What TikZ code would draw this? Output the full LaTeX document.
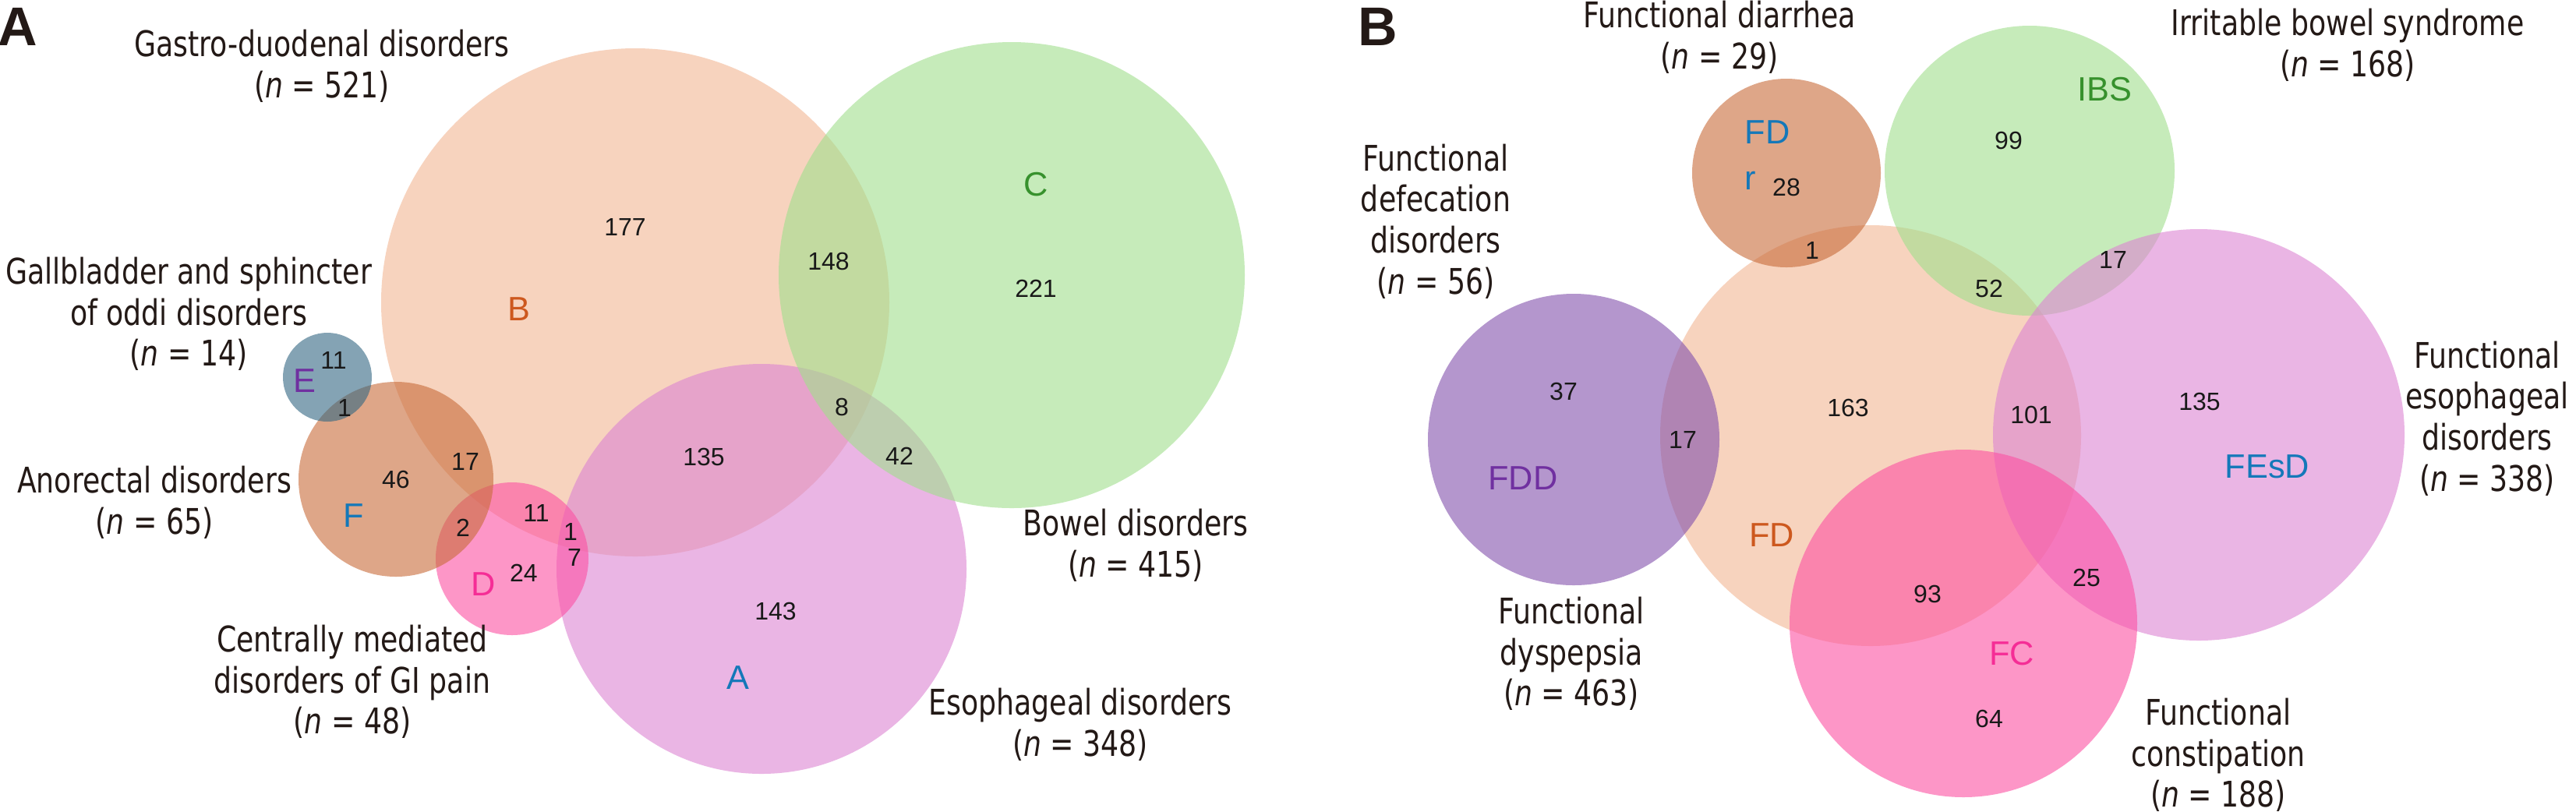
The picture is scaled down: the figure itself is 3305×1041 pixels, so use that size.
\documentclass[tikz,border=0pt]{standalone}
\usepackage{fontspec}
\setmainfont{Liberation Sans}
\newfontfamily\lblfont[FakeStretch=0.8]{DejaVu Sans}
\definecolor{cpeach}{RGB}{242,182,148}
\definecolor{cgreen}{RGB}{160,223,140}
\definecolor{cpink}{RGB}{220,132,210}
\definecolor{cbrown}{RGB}{200,107,57}
\definecolor{cblue}{RGB}{50,103,130}
\definecolor{chot}{RGB}{253,80,163}
\definecolor{cpurple}{RGB}{130,80,173}
\definecolor{torange}{RGB}{205,88,30}
\definecolor{tgreen}{RGB}{55,145,45}
\definecolor{tblue}{RGB}{20,120,185}
\definecolor{tpurple}{RGB}{112,48,160}
\definecolor{tpink}{RGB}{245,45,150}
\definecolor{txtcol}{RGB}{35,25,22}
\definecolor{numcol}{RGB}{25,25,25}
\begin{document}
\begin{tikzpicture}[x=0.3pt,y=-0.3pt,
  venn/.style={fill opacity=0.6},
  num/.style={font=\fontsize{9.6}{11}\selectfont, text=numcol, inner sep=0pt},
  setname/.style={font=\fontsize{13}{15}\selectfont, inner sep=0pt},
  lbl/.style={font=\lblfont\fontsize{13.6}{15.8}\selectfont, align=center, inner sep=0pt, text=txtcol},
  panel/.style={font=\fontsize{21}{24}\selectfont\bfseries, inner sep=0pt, text=txtcol}]
\useasboundingbox (0,0) rectangle (3305,1041);
\fill[white] (0,0) rectangle (3305,1041);

% ---------------- Panel A ----------------
\fill[cpeach, venn] (815,388) circle [radius=326];
\fill[cpink, venn] (977,730) circle [radius=263];
\fill[cgreen, venn] (1298,353) circle [radius=299];
\fill[chot, venn] (657,717) circle [radius=98];
\fill[cbrown, venn] (508,615) circle [radius=125];
\fill[cblue, venn] (420,484) circle [radius=57];

\node[panel] (pA) at (23,34) {A};

\node[setname, text=torange] (lB) at (666,397) {B};
\node[setname, text=tgreen] (lC) at (1329,237) {C};
\node[setname, text=tblue] (lA) at (947,870) {A};
\node[setname, text=tpurple] (lE) at (391,489) {E};
\node[setname, text=tblue] (lF) at (454,662) {F};
\node[setname, text=tpink] (lD) at (620,750) {D};

\node[num] (a177) at (802,291) {177};
\node[num] (a148) at (1063,335) {148};
\node[num] (a221) at (1329,370) {221};
\node[num] (a11e) at (428,462) {11};
\node[num] (a1ef) at (442,523) {1};
\node[num] (a17) at (597,592) {17};
\node[num] (a46) at (508,615) {46};
\node[num] (a8) at (1080,522) {8};
\node[num] (a135) at (903,586) {135};
\node[num] (a42) at (1154,585) {42};
\node[num] (a2) at (594,677) {2};
\node[num] (a11d) at (688,658) {11};
\node[num] (a1d) at (732,682) {1};
\node[num] (a7) at (737,715) {7};
\node[num] (a24) at (672,735) {24};
\node[num] (a143) at (995,784) {143};

\node[lbl] (tGD) at (413,85) {Gastro-duodenal disorders\\(\textit{n} = 521)};
\node[lbl] (tGB) at (242,403) {Gallbladder and sphincter\\of oddi disorders\\(\textit{n} = 14)};
\node[lbl] (tAR) at (198,645) {Anorectal disorders\\(\textit{n} = 65)};
\node[lbl] (tCM) at (452,875) {Centrally mediated\\disorders of GI pain\\(\textit{n} = 48)};
\node[lbl] (tBW) at (1457,700) {Bowel disorders\\(\textit{n} = 415)};
\node[lbl] (tES) at (1386,930) {Esophageal disorders\\(\textit{n} = 348)};

% ---------------- Panel B ----------------
\fill[cpeach, venn] (2400,559) circle [radius=270];
\fill[cbrown, venn] (2292,222) circle [radius=121];
\fill[cgreen, venn] (2604,219) circle [radius=186];
\fill[cpink, venn] (2821,558) circle [radius=264];
\fill[cpurple, venn] (2019,564) circle [radius=187];
\fill[chot, venn] (2519,800) circle [radius=223];

\node[panel] (pB) at (1768,34) {B};

\node[setname, text=tblue, anchor=base west] (lFDr1) at (2238,184) {FD};
\node[setname, text=tblue, anchor=base west] (lFDr2) at (2238,243) {r};
\node[setname, text=tgreen] (lIBS) at (2700,115) {IBS};
\node[setname, text=tpurple] (lFDD) at (1954,614) {FDD};
\node[setname, text=torange] (lFD) at (2273,687) {FD};
\node[setname, text=tblue] (lFEsD) at (2909,599) {FEsD};
\node[setname, text=tpink] (lFC) at (2581,839) {FC};

\node[num] (b28) at (2292,240) {28};
\node[num] (b1) at (2325,321) {1};
\node[num] (b99) at (2577,180) {99};
\node[num] (b52) at (2552,370) {52};
\node[num] (b17a) at (2711,333) {17};
\node[num] (b37) at (2006,502) {37};
\node[num] (b17b) at (2159,564) {17};
\node[num] (b163) at (2371,523) {163};
\node[num] (b101) at (2606,532) {101};
\node[num] (b135) at (2822,515) {135};
\node[num] (b93) at (2473,762) {93};
\node[num] (b25) at (2677,741) {25};
\node[num] (b64) at (2552,922) {64};

\node[lbl] (tFDr) at (2206,48) {Functional diarrhea\\(\textit{n} = 29)};
\node[lbl] (tIBS) at (3012,58) {Irritable bowel syndrome\\(\textit{n} = 168)};
\node[lbl] (tFDD) at (1842,284) {Functional\\defecation\\disorders\\(\textit{n} = 56)};
\node[lbl] (tFEsD) at (3191,537) {Functional\\esophageal\\disorders\\(\textit{n} = 338)};
\node[lbl] (tFD) at (2016,839) {Functional\\dyspepsia\\(\textit{n} = 463)};
\node[lbl] (tFC) at (2846,969) {Functional\\constipation\\(\textit{n} = 188)};
\end{tikzpicture}
\end{document}
